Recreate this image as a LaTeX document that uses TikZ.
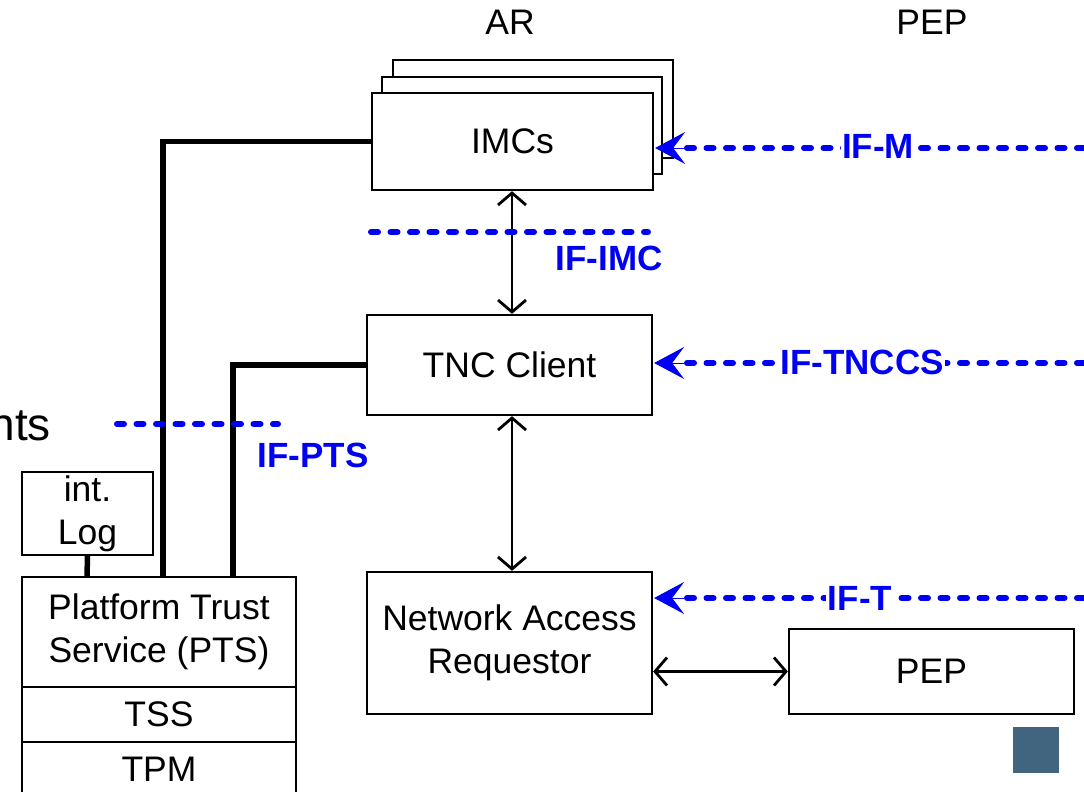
\documentclass[tikz,border=0pt]{standalone}
\usepackage{fontspec}
\setmainfont{Liberation Sans}
\usetikzlibrary{arrows.meta}
\definecolor{ifblue}{RGB}{0,0,245}
\definecolor{sqcol}{RGB}{65,101,126}
\begin{document}
\begin{tikzpicture}[x=1pt,y=-1pt,
  box/.style={draw, line width=2.3pt, fill=white, align=center, inner sep=0pt,
    font=\fontsize{35.5}{43}\selectfont},
  ifline/.style={ifblue, line width=6pt, line cap=round, dash pattern=on 7pt off 12.5pt},
  iftip/.style={ifblue, line width=1pt, -{Stealth[length=30pt,width=32pt,inset=12pt]}},
  iflabel/.style={fill=white, text=ifblue, inner sep=1.5pt, font=\bfseries\fontsize{35}{40}\selectfont},
  thick line/.style={line width=5.5pt},
  biarrow/.style={line width=2.8pt, {Straight Barb[length=12pt,width=28pt]}-{Straight Barb[length=12pt,width=28pt]}},
  plain/.style={font=\fontsize{35.5}{40}\selectfont, inner sep=0pt}
]
\useasboundingbox[fill=white] (0,0) rectangle (1084,792);

% top labels
\node[plain] (ar) at (510,22) {AR};
\node[plain] (peptop) at (932,22) {PEP};
\node[plain, font=\fontsize{46}{50}\selectfont, anchor=base east] (nts) at (51,440) {nts};

% IMCs stack
\node[box, minimum width=280pt, minimum height=98pt] (imc3) at (533,109) {};
\node[box, minimum width=280pt, minimum height=97pt] (imc2) at (522,125.5) {};
\node[box, minimum width=281pt, minimum height=97pt] (imc) at (512.5,141.5) {IMCs};

% other boxes
\node[box, minimum width=285pt, minimum height=100pt] (tnc) at (509.5,365) {TNC Client};
\node[box, minimum width=285pt, minimum height=142pt] (nar) at (509.5,643) {Network Access\\Requestor};
\node[box, minimum width=285pt, minimum height=85pt] (pep) at (931.5,671.5) {PEP};
\node[box, minimum width=131pt, minimum height=83pt] (log) at (87.5,513.5) {int.\\Log};
\node[box, minimum width=274pt, minimum height=110pt] (pts) at (159,632) {Platform Trust\\Service (PTS)};
\node[box, minimum width=274pt, minimum height=55pt] (tss) at (159,714.5) {TSS};
\node[box, minimum width=274pt, minimum height=54pt] (tpm) at (159,769) {TPM};

% coordinates
\coordinate (c1) at (163,577);
\coordinate (c2) at (233,577);
\coordinate (c3) at (87,577);
\coordinate (mR) at (1084,148);
\coordinate (tR) at (1084,363);
\coordinate (nR) at (1084,598);
\coordinate (mT) at ([xshift=1pt]mR -| imc.east);
\coordinate (tT) at ([xshift=1pt]tR -| tnc.east);
\coordinate (nT) at ([xshift=1pt]nR -| nar.east);
\coordinate (imcA) at (371,232);
\coordinate (imcB) at (648,232);
\coordinate (ptsA) at (117,424);
\coordinate (ptsB) at (278,424);

% thick black connectors
\draw[thick line] (imc.west) -| (c1);
\draw[thick line] (tnc.west) -| (c2);
\draw[thick line] (log.south) -- (c3);

% black double arrows
\draw[biarrow] (imc.south -| 512,0) -- (tnc.north -| 512,0);
\draw[biarrow] (tnc.south -| 512,0) -- (nar.north -| 512,0);
\draw[biarrow] (nar.east |- pep.west) -- (pep.west);

% blue interface lines
\draw[ifline] (imcA) -- (imcB);
\draw[ifline] (ptsA) -- (ptsB);
\draw[ifline] (mR) -- ([xshift=22pt]mT);
\draw[ifline] (tR) -- ([xshift=22pt]tT);
\draw[ifline] (nR) -- ([xshift=22pt]nT);
\draw[iftip] ([xshift=30pt]mT) -- (mT);
\draw[iftip] ([xshift=30pt]tT) -- (tT);
\draw[iftip] ([xshift=30pt]nT) -- (nT);

% interface labels
\node[iflabel] (lm) at (878,146) {IF-M};
\node[iflabel] (lt) at (862,362) {IF-TNCCS};
\node[iflabel] (ln) at (860,598) {IF-T};
\node[iflabel, fill=none] (limc) at (609,258) {IF-IMC};
\node[iflabel, fill=none] (lpts) at (313,455) {IF-PTS};

% small square
\fill[sqcol] (1013,727) rectangle (1059,773);
\end{tikzpicture}
\end{document}
